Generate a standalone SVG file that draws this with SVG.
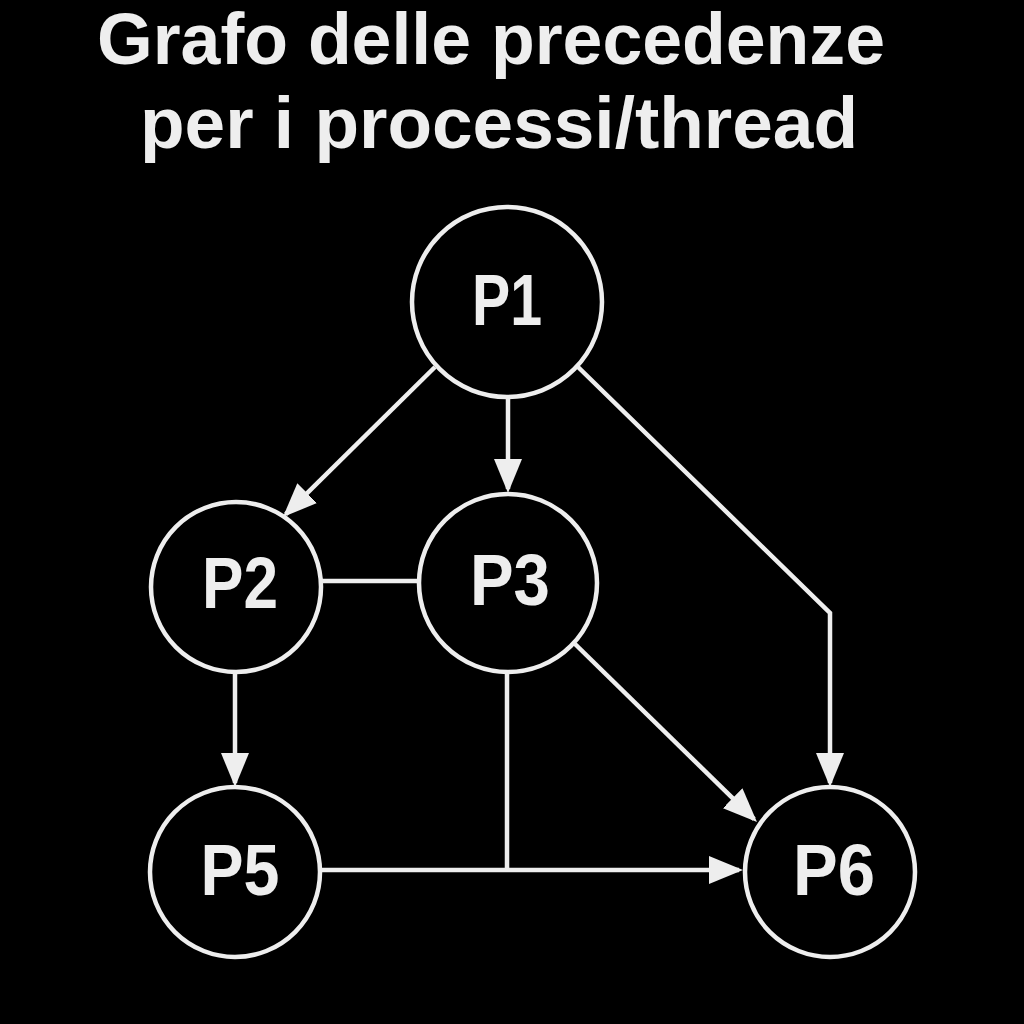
<svg xmlns="http://www.w3.org/2000/svg" width="1024" height="1024" viewBox="0 0 1024 1024">
  <style>
    .title { font-family: "Liberation Sans", Arial, sans-serif; font-weight: bold; font-size: 73px; fill: #eeeeee; text-anchor: middle; }
    .node circle { fill: #000000; stroke: #eeeeee; stroke-width: 4.5; }
    .node text { font-family: "Liberation Sans", Arial, sans-serif; font-weight: bold; font-size: 72px; fill: #eeeeee; text-anchor: middle; }
    .edge { fill: none; stroke: #eeeeee; stroke-width: 4.5; }
    .arrow { marker-end: url(#ah); }
  </style>
  <defs>
    <marker id="ah" viewBox="0 0 34 28" markerWidth="34" markerHeight="28" refX="30" refY="14" orient="auto" markerUnits="userSpaceOnUse">
      <path d="M0,0 L34,14 L0,28 Z" fill="#eeeeee"/>
    </marker>
  </defs>
  <rect width="1024" height="1024" fill="#000000"/>
  <g id="title">
    <text class="title" x="491" y="64" textLength="788" lengthAdjust="spacingAndGlyphs">Grafo delle precedenze</text>
    <text class="title" x="499" y="148" textLength="718" lengthAdjust="spacingAndGlyphs">per i processi/thread</text>
  </g>
  <g id="connectors">
    <path class="edge arrow" d="M435,367 L285.8,514.2"/>
    <path class="edge arrow" d="M508,398 L508,489"/>
    <path class="edge arrow" d="M578,367 L830,613 L830,783"/>
    <path class="edge" d="M322,581 L418,581"/>
    <path class="edge arrow" d="M235,672 L235,783"/>
    <path class="edge arrow" d="M575,644 L754.1,819.2"/>
    <path class="edge" d="M507,672 L507,870"/>
    <path class="edge arrow" d="M321,870 L739,870"/>
  </g>
  <g id="P1" class="node">
    <circle cx="507" cy="302" r="95"/>
    <text x="507" y="325" textLength="70" lengthAdjust="spacingAndGlyphs">P1</text>
  </g>
  <g id="P2" class="node">
    <circle cx="236" cy="587" r="85"/>
    <text x="240" y="608" textLength="76" lengthAdjust="spacingAndGlyphs">P2</text>
  </g>
  <g id="P3" class="node">
    <circle cx="508" cy="583" r="89"/>
    <text x="510" y="605" textLength="80" lengthAdjust="spacingAndGlyphs">P3</text>
  </g>
  <g id="P5" class="node">
    <circle cx="235" cy="872" r="85"/>
    <text x="240" y="895" textLength="79" lengthAdjust="spacingAndGlyphs">P5</text>
  </g>
  <g id="P6" class="node">
    <circle cx="830" cy="872" r="85"/>
    <text x="834" y="895" textLength="82" lengthAdjust="spacingAndGlyphs">P6</text>
  </g>
</svg>
